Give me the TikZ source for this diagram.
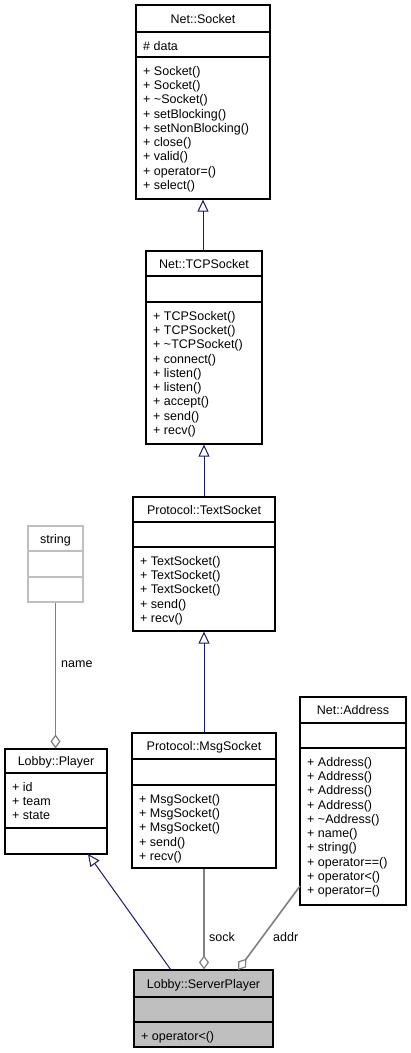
\documentclass[tikz,border=0pt]{standalone}
\usepackage{fontspec}
\setmainfont{Liberation Sans}
\usetikzlibrary{arrows.meta}
\definecolor{navy}{HTML}{191970}
\definecolor{conngray}{HTML}{808080}
\definecolor{lgray}{HTML}{BFBFBF}
\tikzset{
  umlfont/.style={font=\fontsize{12.5}{14.3}\selectfont},
  classbox/.style={draw=black, line width=1.2pt, inner sep=0pt, fill=white},
  sepline/.style={draw=black, line width=1.2pt},
  titletext/.style={umlfont, anchor=base, inner sep=0pt},
  itemtext/.style={umlfont, anchor=base west, inner sep=0pt},
  lbltext/.style={umlfont, anchor=base west, inner sep=0pt},
  inherit/.style={draw=navy, line width=1pt, -{Triangle[open, length=12pt, width=11pt]}},
  aggreg/.style={draw=conngray, line width=1.6pt, -{Diamond[open, length=14pt, width=10pt, line width=1.2pt]}},
}
% #1 name, #2 x, #3 y, #4 w, #5 h, #6 sep1, #7 sep2, #8 title, #9 extra style
\newcommand\umlclass[9]{%
  \node[classbox,#9,minimum width=#4pt,minimum height=#5pt] (#1) at (#2+#4/2,#3+#5/2) {};
  \draw[sepline,#9,fill=none] (#2,#6) -- (#2+#4,#6);
  \draw[sepline,#9,fill=none] (#2,#7) -- (#2+#4,#7);
  \node[titletext] (#1-t) at (#2+#4/2,{(#3+#6)/2+4.5}) {#8};
}
% #1 prefix, #2 x, #3 section top, #4 list
\newcommand\umlitems[4]{%
  \foreach \lbl [count=\i] in {#4} {%
    \node[itemtext] (#1-\i) at (#2+7,#3+11+14.3*\i-7.15) {\lbl};
  }%
}
\begin{document}
\begin{tikzpicture}[x=1pt,y=-1pt]
\useasboundingbox[fill=white] (0,0) rectangle (411,1053);

% classes
\umlclass{sock}{136}{5}{134}{194}{32}{57}{Net::Socket}{}
\umlitems{sockA}{136}{32}{\# data}
\umlitems{sockM}{136}{57}{+ Socket(),+ Socket(),+ \textasciitilde Socket(),+ setBlocking(),+ setNonBlocking(),+ close(),+ valid(),+ operator=(),+ select()}

\umlclass{tcp}{146}{251}{116}{193}{276}{302}{Net::TCPSocket}{}
\umlitems{tcpM}{146}{302}{+ TCPSocket(),+ TCPSocket(),+ \textasciitilde TCPSocket(),+ connect(),+ listen(),+ listen(),+ accept(),+ send(),+ recv()}

\umlclass{text}{133}{497}{142}{134}{522}{547}{Protocol::TextSocket}{}
\umlitems{textM}{133}{547}{+ TextSocket(),+ TextSocket(),+ TextSocket(),+ send(),+ recv()}

\umlclass{str}{28}{526}{55}{76}{551}{577}{string}{draw=lgray}

\umlclass{pl}{5}{749}{102}{105}{773}{828}{Lobby::Player}{}
\umlitems{plA}{5}{773}{+ id,+ team,+ state}

\umlclass{msg}{132}{733}{144}{135}{759}{785}{Protocol::MsgSocket}{}
\umlitems{msgM}{132}{785}{+ MsgSocket(),+ MsgSocket(),+ MsgSocket(),+ send(),+ recv()}

\umlclass{addr}{300}{697}{106}{208}{723}{748}{Net::Address}{}
\umlitems{addrM}{300}{748}{+ Address(),+ Address(),+ Address(),+ Address(),+ \textasciitilde Address(),+ name(),+ string(),+ operator==(),+ operator<(),+ operator=()}

\umlclass{sp}{134}{970}{139}{77}{997}{1022}{Lobby::ServerPlayer}{fill=lgray}
\umlitems{spM}{134}{1022}{+ operator<()}

% connector end points
\coordinate (spIn) at (171,970);
\coordinate (plOut) at (88,854);
\coordinate (addrOut) at (300,886);
\coordinate (spAddr) at (238,970);

% inheritance
\draw[inherit] (tcp.north -| sock.south) -- (sock.south);
\draw[inherit] (text.north) -- (tcp.south);
\draw[inherit] (msg.north) -- (text.south);
\draw[inherit] (spIn) -- (plOut);

% aggregation
\draw[aggreg] (str.south) -- (str.south |- pl.north);
\draw[aggreg] (msg.south) -- (msg.south |- sp.north);
\draw[aggreg] (addrOut) -- (spAddr);

% labels
\node[lbltext] (lname) at (61,667) {name};
\node[lbltext] (lsock) at (209,941) {sock};
\node[lbltext] (laddr) at (273,941) {addr};
\end{tikzpicture}
\end{document}
